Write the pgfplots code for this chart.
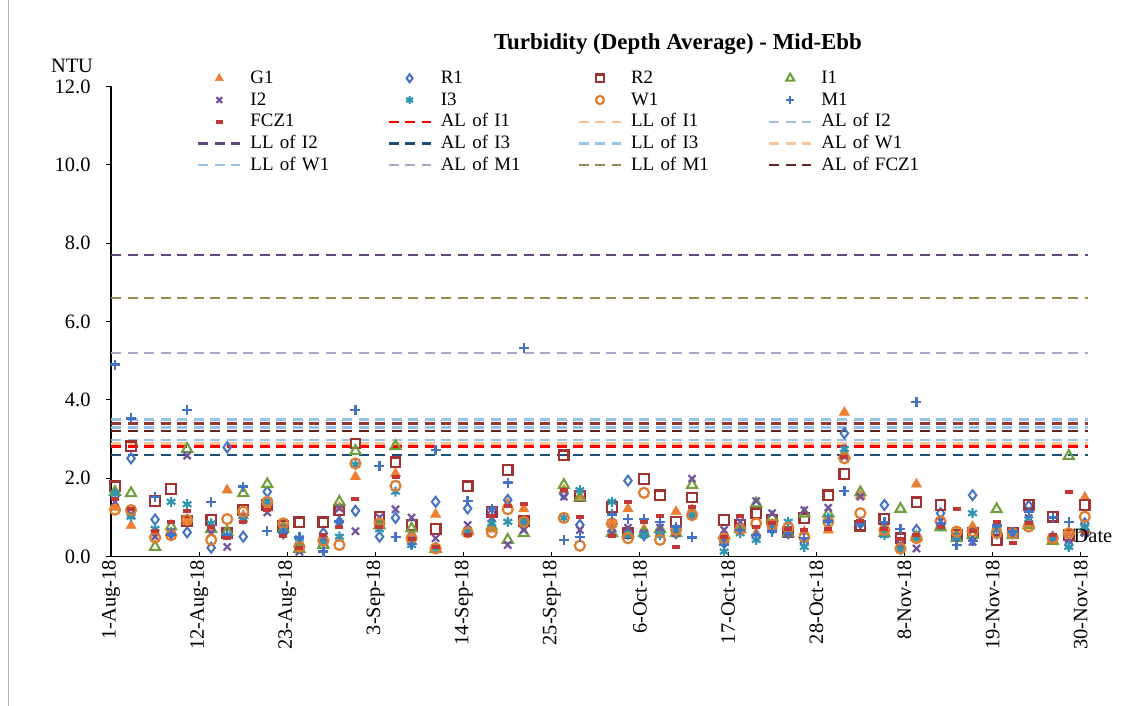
\documentclass[border=0pt]{standalone}
\usepackage{pgfplots}
\pgfplotsset{compat=1.18}
\usepackage{pgfplotstable}
\usepackage{fontspec}
\setmainfont{Liberation Serif}
\definecolor{cG1}{RGB}{237,125,49}
\definecolor{cR1}{RGB}{68,114,196}
\definecolor{cR2}{RGB}{160,50,50}
\definecolor{cI1}{RGB}{112,160,60}
\definecolor{cI2}{RGB}{112,84,160}
\definecolor{cI3}{RGB}{49,149,178}
\definecolor{cW1}{RGB}{221,125,49}
\definecolor{cM1}{RGB}{68,114,196}
\definecolor{cFCZ}{RGB}{192,57,57}
\definecolor{lRed}{RGB}{255,0,0}
\definecolor{lOrange}{RGB}{250,195,150}
\definecolor{lBlue}{RGB}{155,194,230}
\definecolor{lPurple}{RGB}{96,73,122}
\definecolor{lDBlue}{RGB}{31,78,121}
\definecolor{lLav}{RGB}{179,162,199}
\definecolor{lOlive}{RGB}{148,138,84}
\definecolor{lBrown}{RGB}{99,37,35}
\definecolor{lBrick}{RGB}{150,54,52}
\pgfplotstableread{
d G1 R1 R2 I1 I2 I3 W1 M1 FCZ1
0 1.25 1.55 1.80 1.65 1.40 1.62 1.20 4.90 1.48
2 0.79 2.51 2.82 1.62 1.08 1.02 1.19 3.53 1.23
5 0.60 0.95 1.42 0.25 0.51 0.71 0.49 1.53 0.65
7 0.60 0.60 1.73 0.77 0.62 1.40 0.55 0.57 0.89
9 0.93 0.62 0.90 2.75 2.58 1.34 0.94 3.74 1.17
12 0.72 0.23 0.94 0.70 0.60 0.85 0.43 1.40 0.75
14 1.70 2.79 0.60 0.64 0.25 0.55 0.96 0.55 0.47
16 1.05 0.51 1.19 1.62 1.00 0.95 1.15 1.79 0.89
19 1.30 1.66 1.32 1.85 1.13 1.40 1.40 0.65 1.20
21 0.82 0.60 0.78 0.70 0.72 0.65 0.85 0.60 0.54
23 0.25 0.30 0.88 0.20 0.13 0.47 0.26 0.49 0.22
26 0.35 0.60 0.88 0.30 0.50 0.34 0.41 0.13 0.55
28 1.25 0.89 1.19 1.40 1.23 0.51 0.30 0.90 0.77
30 2.04 1.17 2.89 2.70 0.65 2.35 2.38 3.74 1.46
33 0.90 0.51 1.02 0.80 1.00 0.70 0.85 2.31 0.75
35 2.12 0.99 2.41 2.82 1.21 1.66 1.81 0.51 2.04
37 0.50 0.55 0.81 0.72 1.00 0.30 0.47 0.32 0.45
40 1.08 1.40 0.71 0.20 0.47 0.22 0.21 2.72 0.25
44 0.65 1.23 1.80 0.65 0.81 0.65 0.62 1.42 0.55
47 0.70 1.10 1.15 0.77 0.99 0.85 0.62 1.23 1.05
49 1.35 1.45 2.21 0.43 0.30 0.89 1.21 1.89 1.30
51 1.22 0.90 0.90 0.60 0.68 0.89 0.89 5.32 1.34
56 1.70 1.60 2.59 1.83 1.53 0.99 0.99 0.43 1.70
58 1.55 0.81 1.55 1.51 0.68 1.70 0.28 0.51 1.02
62 0.85 0.65 1.26 0.60 0.60 1.40 0.85 1.08 0.54
64 1.22 1.94 0.60 0.60 0.74 0.55 0.47 0.96 1.40
66 0.70 0.55 1.98 0.60 0.60 0.55 1.63 0.96 0.89
68 0.60 0.60 1.57 0.70 0.74 0.55 0.43 0.89 1.05
70 1.15 0.60 0.89 0.60 0.60 0.70 0.68 0.77 0.24
72 1.20 1.10 1.51 1.83 1.99 1.05 1.06 0.49 1.28
76 0.45 0.35 0.94 0.55 0.68 0.13 0.47 0.30 0.50
78 0.70 0.70 0.82 0.70 0.89 0.60 0.70 0.68 1.05
80 0.60 0.50 1.11 1.36 1.42 0.43 0.85 0.55 0.75
82 0.80 0.70 0.95 1.00 1.11 0.70 0.82 0.64 0.85
84 0.60 0.60 0.64 0.60 0.60 0.89 0.74 0.60 0.70
86 0.64 0.35 0.98 1.10 1.19 0.25 0.50 0.47 0.68
89 0.68 0.95 1.57 1.10 1.25 1.00 0.89 0.90 0.70
91 3.68 3.15 2.11 2.60 2.55 2.75 2.51 1.68 2.55
93 1.55 0.85 0.79 1.64 1.53 0.85 1.11 0.85 0.90
96 0.60 1.32 0.96 0.60 0.80 0.55 0.68 0.89 0.70
98 0.25 0.35 0.47 1.22 0.30 0.17 0.21 0.71 0.45
100 1.85 0.68 1.39 0.50 0.21 0.50 0.47 3.95 0.55
103 0.80 1.11 1.32 0.75 0.90 0.80 0.90 0.85 0.75
105 0.60 0.50 0.55 0.47 0.50 0.50 0.64 0.30 1.21
107 0.77 1.57 0.60 0.55 0.38 1.11 0.65 0.40 0.65
110 0.75 0.60 0.43 1.21 0.70 0.70 0.60 0.80 0.89
112 0.60 0.60 0.60 0.55 0.60 0.60 0.60 0.64 0.34
114 0.80 1.30 1.33 0.80 0.99 0.95 0.77 1.15 0.85
117 0.45 0.50 1.02 0.40 0.50 0.50 0.47 1.00 0.55
119 0.60 0.30 0.55 2.57 0.45 0.25 0.60 0.89 1.66
121 1.51 0.85 1.32 0.70 0.60 0.75 1.02 0.55 0.60
}\data
\pgfplotsset{
  leg/.style={legend image code/.code={\draw[mark repeat=2,mark phase=2,##1,mark options={scale=0.8}] plot coordinates {(0bp,0bp)(21bp,0bp)(42bp,0bp)};}},
  hl/.style={no marks, line width=2.3bp, dash pattern=on 10bp off 6.5bp, leg},
}
\begin{document}
\begin{tikzpicture}
\useasboundingbox (0,0) rectangle (1129bp,706bp);
\draw[gray!60, line width=0.8bp] (8bp,0.5bp) -- (8bp,705.5bp);
\begin{axis}[
  at={(111bp,149.3bp)}, anchor=south west,
  scale only axis, width=977bp, height=470.2bp,
  xmin=-0.5, xmax=121.4, ymin=0, ymax=12,
  axis x line*=bottom, axis y line*=left,
  axis line style={line width=1.2bp, black},
  clip=false,
  xtick={-0.5,10.5,...,120.5},
  xticklabels={1-Aug-18,12-Aug-18,23-Aug-18,3-Sep-18,14-Sep-18,25-Sep-18,6-Oct-18,17-Oct-18,28-Oct-18,8-Nov-18,19-Nov-18,30-Nov-18},
  x tick label style={rotate=90, anchor=east, font=\fontsize{20.5}{24}\selectfont},
  xtick align=inside,
  ytick={0,2,...,12},
  ytick align=outside,
  major tick length=5bp,
  tick style={line width=1bp, black},
  y tick label style={font=\fontsize{20.5}{24}\selectfont, xshift=-12bp, /pgf/number format/.cd, fixed, fixed zerofill, precision=1, assume math mode=true},
  legend columns=4,
  legend style={at={(axis description cs:0.088,1.037)}, anchor=north west, draw=none, fill=none,
    font=\fontsize{19}{22}\selectfont, inner sep=0pt,
    /tikz/every odd column/.append style={column sep=9bp},
    /tikz/every even column/.append style={column sep=0bp},
    nodes={inner sep=0pt, text width=137bp, text height=14bp, text depth=4bp, align=left},
    row sep=3.75bp},
]
\addplot[only marks, mark=triangle*, color=cG1, mark size=6bp, leg] table[x=d,y=G1]{\data};
\addlegendentry{G1}
\addplot[only marks, mark=diamond, color=cR1, mark size=5bp, line width=2bp, leg] table[x=d,y=R1]{\data};
\addlegendentry{R1}
\addplot[only marks, mark=square, color=cR2, mark size=4.8bp, line width=2.3bp, leg] table[x=d,y=R2]{\data};
\addlegendentry{R2}
\addplot[only marks, mark=triangle, color=cI1, mark size=5.8bp, line width=2.1bp, leg] table[x=d,y=I1]{\data};
\addlegendentry{I1}
\addplot[only marks, mark=x, color=cI2, mark size=5bp, line width=2.2bp, leg] table[x=d,y=I2]{\data};
\addlegendentry{I2}
\addplot[only marks, mark=asterisk, color=cI3, mark size=5bp, line width=2.2bp, leg] table[x=d,y=I3]{\data};
\addlegendentry{I3}
\addplot[only marks, mark=o, color=cW1, mark size=5bp, line width=2.2bp, leg] table[x=d,y=W1]{\data};
\addlegendentry{W1}
\addplot[only marks, mark=+, color=cM1, mark size=5bp, line width=2.4bp, leg] table[x=d,y=M1]{\data};
\addlegendentry{M1}
\addplot[only marks, mark=-, color=cFCZ, mark size=4bp, line width=4bp, leg] table[x=d,y=FCZ1]{\data};
\addlegendentry{FCZ1}
\addplot[hl, color=lRed] coordinates {(-0.5,2.81) (121.4,2.81)};
\addlegendentry{AL of I1}
\addplot[hl, color=lOrange] coordinates {(-0.5,2.89) (121.4,2.89)};
\addlegendentry{LL of I1}
\addplot[hl, color=lBlue] coordinates {(-0.5,2.98) (121.4,2.98)};
\addlegendentry{AL of I2}
\addplot[hl, color=lPurple] coordinates {(-0.5,7.70) (121.4,7.70)};
\addlegendentry{LL of I2}
\addplot[hl, color=lDBlue] coordinates {(-0.5,2.60) (121.4,2.60)};
\addlegendentry{AL of I3}
\addplot[hl, color=lBlue] coordinates {(-0.5,3.30) (121.4,3.30)};
\addlegendentry{LL of I3}
\addplot[hl, color=lOrange] coordinates {(-0.5,2.89) (121.4,2.89)};
\addlegendentry{AL of W1}
\addplot[hl, color=lBlue] coordinates {(-0.5,3.50) (121.4,3.50)};
\addlegendentry{LL of W1}
\addplot[hl, color=lLav] coordinates {(-0.5,5.19) (121.4,5.19)};
\addlegendentry{AL of M1}
\addplot[hl, color=lOlive] coordinates {(-0.5,6.60) (121.4,6.60)};
\addlegendentry{LL of M1}
\addplot[hl, color=lBrown] coordinates {(-0.5,3.21) (121.4,3.21)};
\addlegendentry{AL of FCZ1}
\addplot[hl, color=lBrick, forget plot] coordinates {(-0.5,3.40) (121.4,3.40)};
\end{axis}
\node[font=\bfseries\fontsize{23}{27}\selectfont] at (678bp,662bp) {Turbidity (Depth Average) - Mid-Ebb};
\node[font=\fontsize{20.5}{24}\selectfont] at (72bp,640bp) {NTU};
\node[font=\fontsize{20.5}{24}\selectfont] at (1093bp,170bp) {Date};
\end{tikzpicture}
\end{document}
